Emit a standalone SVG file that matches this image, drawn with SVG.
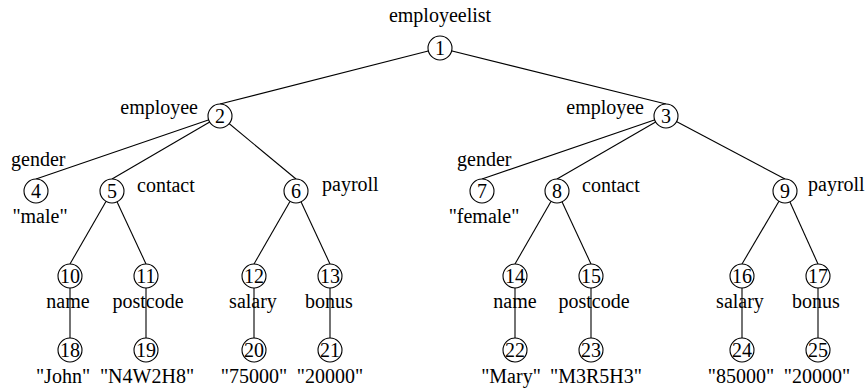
<svg xmlns="http://www.w3.org/2000/svg" width="867" height="389" viewBox="0 0 867 389">
<style>
text{font-family:"Liberation Serif","Times New Roman",serif;font-size:20px;fill:#000}
.n circle{fill:#fff;stroke:#000;stroke-width:1.1}
.n text{text-anchor:middle}
.c line{stroke:#000;stroke-width:1.1}
.m{text-anchor:middle}
.e{text-anchor:end}
</style>
<rect width="867" height="389" fill="#fff"/>
<g id="connectors" class="c">
<line x1="440" y1="48" x2="220" y2="104"/>
<line x1="440" y1="48" x2="666" y2="104"/>
<line x1="220" y1="116" x2="36" y2="179"/>
<line x1="220" y1="116" x2="112" y2="179"/>
<line x1="220" y1="116" x2="296" y2="179"/>
<line x1="666" y1="116" x2="482" y2="179"/>
<line x1="666" y1="116" x2="557" y2="179"/>
<line x1="666" y1="116" x2="785" y2="179"/>
<line x1="112" y1="191" x2="70" y2="264"/>
<line x1="112" y1="191" x2="146" y2="264"/>
<line x1="296" y1="191" x2="254" y2="264"/>
<line x1="296" y1="191" x2="330" y2="264"/>
<line x1="557" y1="191" x2="515" y2="264"/>
<line x1="557" y1="191" x2="591" y2="264"/>
<line x1="785" y1="191" x2="742" y2="264"/>
<line x1="785" y1="191" x2="818" y2="264"/>
<line x1="70" y1="276" x2="70" y2="338"/>
<line x1="146" y1="276" x2="146" y2="338"/>
<line x1="254" y1="276" x2="254" y2="338"/>
<line x1="330" y1="276" x2="330" y2="338"/>
<line x1="515" y1="276" x2="515" y2="338"/>
<line x1="591" y1="276" x2="591" y2="338"/>
<line x1="742" y1="276" x2="742" y2="338"/>
<line x1="818" y1="276" x2="818" y2="338"/>
</g>
<g id="labels">
<text class="m" x="440" y="22">employeelist</text>
<text class="e" x="198" y="114">employee</text>
<text class="e" x="644" y="114">employee</text>
<text x="11" y="166">gender</text>
<text x="457" y="166">gender</text>
<text x="137" y="192">contact</text>
<text x="582" y="192">contact</text>
<text x="322" y="191">payroll</text>
<text x="808" y="191">payroll</text>
<text class="m" x="40" y="223">"male"</text>
<text class="m" x="484" y="223">"female"</text>
<text class="m" x="68" y="308">name</text>
<text class="m" x="148" y="308">postcode</text>
<text class="m" x="253" y="308">salary</text>
<text class="m" x="329" y="308">bonus</text>
<text class="m" x="515" y="308">name</text>
<text class="m" x="594" y="308">postcode</text>
<text class="m" x="740" y="308">salary</text>
<text class="m" x="816" y="308">bonus</text>
<text class="m" x="63" y="383">"John"</text>
<text class="m" x="147" y="383">"N4W2H8"</text>
<text class="m" x="254" y="383">"75000"</text>
<text class="m" x="330" y="383">"20000"</text>
<text class="m" x="511" y="383">"Mary"</text>
<text class="m" x="596" y="383">"M3R5H3"</text>
<text class="m" x="741" y="383">"85000"</text>
<text class="m" x="817" y="383">"20000"</text>
</g>
<g id="node1" class="n"><circle cx="440" cy="48" r="12"/><text x="440" y="55">1</text></g>
<g id="node2" class="n"><circle cx="220" cy="116" r="12"/><text x="220" y="123">2</text></g>
<g id="node3" class="n"><circle cx="666" cy="116" r="12"/><text x="666" y="123">3</text></g>
<g id="node4" class="n"><circle cx="36" cy="191" r="12"/><text x="36" y="198">4</text></g>
<g id="node5" class="n"><circle cx="112" cy="191" r="12"/><text x="112" y="198">5</text></g>
<g id="node6" class="n"><circle cx="296" cy="191" r="12"/><text x="296" y="198">6</text></g>
<g id="node7" class="n"><circle cx="482" cy="191" r="12"/><text x="482" y="198">7</text></g>
<g id="node8" class="n"><circle cx="557" cy="191" r="12"/><text x="557" y="198">8</text></g>
<g id="node9" class="n"><circle cx="785" cy="191" r="12"/><text x="785" y="198">9</text></g>
<g id="node10" class="n"><circle cx="70" cy="276" r="12"/><text x="70" y="283">10</text></g>
<g id="node11" class="n"><circle cx="146" cy="276" r="12"/><text x="146" y="283">11</text></g>
<g id="node12" class="n"><circle cx="254" cy="276" r="12"/><text x="254" y="283">12</text></g>
<g id="node13" class="n"><circle cx="330" cy="276" r="12"/><text x="330" y="283">13</text></g>
<g id="node14" class="n"><circle cx="515" cy="276" r="12"/><text x="515" y="283">14</text></g>
<g id="node15" class="n"><circle cx="591" cy="276" r="12"/><text x="591" y="283">15</text></g>
<g id="node16" class="n"><circle cx="742" cy="276" r="12"/><text x="742" y="283">16</text></g>
<g id="node17" class="n"><circle cx="818" cy="276" r="12"/><text x="818" y="283">17</text></g>
<g id="node18" class="n"><circle cx="70" cy="350" r="12"/><text x="70" y="357">18</text></g>
<g id="node19" class="n"><circle cx="146" cy="350" r="12"/><text x="146" y="357">19</text></g>
<g id="node20" class="n"><circle cx="254" cy="350" r="12"/><text x="254" y="357">20</text></g>
<g id="node21" class="n"><circle cx="330" cy="350" r="12"/><text x="330" y="357">21</text></g>
<g id="node22" class="n"><circle cx="515" cy="350" r="12"/><text x="515" y="357">22</text></g>
<g id="node23" class="n"><circle cx="591" cy="350" r="12"/><text x="591" y="357">23</text></g>
<g id="node24" class="n"><circle cx="742" cy="350" r="12"/><text x="742" y="357">24</text></g>
<g id="node25" class="n"><circle cx="818" cy="350" r="12"/><text x="818" y="357">25</text></g>
</svg>
